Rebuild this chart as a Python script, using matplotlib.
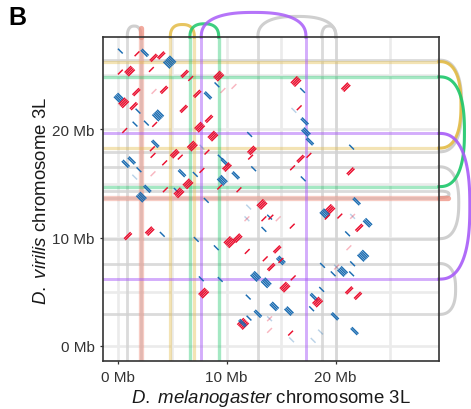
import numpy as np
import matplotlib.pyplot as plt

plt.rcParams['font.family'] = ['Liberation Sans', 'DejaVu Sans']
plt.rcParams['mathtext.fontset'] = 'custom'
plt.rcParams['mathtext.rm'] = 'Liberation Sans'
plt.rcParams['mathtext.it'] = 'Liberation Sans:italic'

# breakpoints on D. melanogaster 3L (x, Mb) and D. virilis 3L (y, Mb)
gray_x = [0.88, 2.14, 12.87, 18.74, 20.03]
gray_y = [26.40, 17.93, 16.54, 9.90, 7.60, 2.90, 14.30, 13.70]
gray_x_links = [(0.88, 2.14), (12.87, 20.03), (18.74, 20.03)]
gray_y_links = [(26.40, 17.93), (16.54, 9.90), (7.60, 2.90), (14.30, 13.70)]

salmon_x = [2.14]
salmon_y = [13.70]
yellow_x = [4.83, 7.03]
yellow_y = [26.27, 18.27]
green_x = [6.63, 9.27]
green_y = [24.86, 14.71]
purple_x = [7.67, 17.28]
purple_y = [19.63, 6.16]

# alignments: centre on mel, centre on vir, strand, number of stacked hits (0 = weak hit)
aln_x = [0.24, 1.77, 2.48, 3.30, 4.00, 4.77, 0.24, 1.10, 3.09, 6.15, 6.70, 9.27, 9.11, 9.66, 10.67,
         1.71, 3.33, 4.25, 0.12, 0.55, 1.47, 1.86, 3.70, 6.06, 7.30, 8.28, 8.38, 3.39, 2.63, 1.59,
         7.52, 0.64, 8.74, 12.11, 3.45, 6.85, 3.18, 3.24, 5.23, 5.74, 8.19, 7.73, 9.41, 9.82, 12.32,
         12.20, 0.73, 1.28, 4.31, 1.95, 1.56, 3.24, 5.90, 7.12, 7.73, 10.03, 10.83, 12.48, 9.60, 6.45,
         2.72, 4.37, 5.38, 5.62, 2.17, 9.36, 11.13, 8.13, 13.24, 12.02, 11.86, 11.86, 13.42, 13.94, 13.42,
         2.94, 0.94, 4.09, 7.21, 10.27, 11.01, 9.05, 11.89, 13.54, 14.09, 7.67, 9.41, 12.66, 13.63, 7.89,
         11.98, 12.87, 12.05, 11.50, 11.45, 13.94, 13.94, 13.94,
         16.36, 16.97, 20.94, 16.17, 16.66, 17.16, 17.28, 17.64, 21.47, 16.79, 17.55, 16.05, 21.38, 17.03, 21.93,
         19.48, 19.02, 19.23, 20.39, 21.56, 21.56, 22.94, 22.17, 14.73, 14.06, 16.02, 21.10, 21.22, 22.53, 14.64,
         14.98, 14.98, 18.80, 19.78, 20.09, 20.09, 20.64, 21.56, 21.47, 16.11, 15.35, 18.72, 21.25, 22.05, 14.37,
         15.72, 18.01, 18.35, 17.80, 19.94, 21.74, 15.87, 15.96, 17.94, 18.62]
aln_y = [27.24, 26.99, 27.08, 26.62, 26.84, 26.22, 25.30, 25.39, 25.54, 25.14, 24.71, 24.93, 24.12, 23.60, 23.97,
         23.45, 23.51, 23.66, 22.89, 22.46, 22.15, 21.69, 21.29, 21.90, 23.29, 23.14, 20.98, 20.46, 20.58, 20.49,
         20.21, 19.90, 19.38, 19.53, 18.67, 18.46, 18.21, 17.60, 17.75, 17.44, 17.90, 18.36, 17.44, 16.98, 18.06,
         17.44, 16.82, 17.13, 16.91, 16.27, 15.59, 15.90, 15.96, 15.84, 16.21, 16.52, 15.75, 16.36, 15.29, 14.97,
         14.51, 14.42, 14.36, 14.14, 13.74, 14.67, 14.42, 13.44, 13.07, 12.82, 11.74, 11.74, 11.74, 11.89, 10.76,
         10.60, 10.14, 10.30, 9.83, 9.58, 9.95, 9.06, 8.72, 8.04, 7.27, 6.19, 6.13, 6.41, 5.82, 4.87,
         4.50, 2.96, 2.56, 2.03, 2.10, 1.42, 2.50, 2.50,
         24.43, 23.60, 23.91, 21.76, 22.00, 20.74, 19.75, 18.89, 18.36, 17.28, 17.60, 16.45, 16.12, 15.43, 13.35,
         12.60, 12.20, 11.89, 11.99, 11.96, 11.96, 11.37, 10.90, 11.74, 11.89, 11.06, 10.35, 9.06, 8.32, 8.91,
         7.89, 7.89, 7.43, 6.65, 7.27, 7.27, 6.87, 7.58, 6.65, 6.28, 5.42, 5.21, 5.12, 4.62, 3.64,
         3.21, 4.50, 4.04, 3.42, 2.72, 1.36, 1.17, 0.55, 0.50, 1.27]
aln_strand = ['-', '+', '-', '+', '+', '-', '+', '+', '+', '+', '+', '+', '-', '+', '+',
              '+', '+', '+', '-', '+', '+', '-', '-', '+', '+', '-', '+', '+', '-', '-',
              '+', '+', '+', '-', '-', '+', '+', '+', '+', '+', '+', '-', '-', '-', '+',
              '+', '-', '-', '+', '-', '-', '+', '-', '-', '+', '+', '-', '-', '-', '+',
              '-', '+', '-', '+', '-', '+', '+', '-', '+', '-', '-', '+', '+', '-', '-',
              '+', '+', '-', '-', '+', '+', '-', '+', '+', '+', '-', '-', '-', '-', '+',
              '-', '-', '-', '+', '-', '+', '-', '+',
              '+', '-', '+', '-', '+', '-', '-', '-', '-', '+', '+', '+', '+', '-', '-',
              '+', '-', '+', '+', '-', '+', '-', '+', '+', '+', '+', '-', '+', '-', '+',
              '-', '+', '-', '-', '+', '-', '-', '-', '-', '+', '+', '-', '+', '+', '-',
              '-', '-', '+', '-', '-', '-', '+', '-', '-', '-']
aln_n = [1, 1, 2, 2, 2, 6, 1, 4, 1, 2, 1, 4, 1, 0, 0,
         2, 0, 2, 4, 4, 2, 1, 5, 2, 2, 2, 2, 1, 1, 1,
         4, 1, 4, 1, 2, 4, 1, 1, 3, 1, 1, 0, 1, 2, 3,
         1, 2, 2, 1, 1, 0, 0, 2, 1, 1, 3, 2, 1, 4, 4,
         2, 1, 1, 4, 4, 1, 1, 1, 4, 0, 0, 0, 1, 1, 1,
         3, 2, 1, 1, 5, 3, 1, 1, 1, 2, 1, 1, 4, 4, 4,
         1, 2, 1, 5, 2, 0, 0, 0,
         4, 1, 3, 0, 1, 2, 3, 2, 1, 2, 1, 1, 2, 1, 2,
         4, 4, 1, 1, 0, 0, 3, 2, 0, 1, 1, 1, 0, 5, 2,
         3, 1, 1, 1, 0, 0, 4, 1, 1, 1, 4, 1, 2, 2, 3,
         3, 2, 4, 1, 2, 2, 1, 0, 0, 0]

RED = '#EA0F2F'
BLUE = '#1C6DB2'
GRAY = '#D2D2D2'
SALMON = '#EE8E7E'
YELLOW = '#E3BB45'
GREEN = '#1CC76A'
PURPLE = '#A85CF8'

xlim = (-1.35, 29.49)
ylim = (-1.41, 28.53)

fig = plt.figure(figsize=(4.71, 4.10), dpi=100)
ax = fig.add_axes([0.2187, 0.117, 0.7133, 0.790])
ax.set_xlim(xlim)
ax.set_ylim(ylim)

# pixels per Mb, used for the loops drawn outside the panel
ppx = 0.7133 * 471 / (xlim[1] - xlim[0])
ppy = 0.790 * 410 / (ylim[1] - ylim[0])

ax.set_xticks([0, 10, 20])
ax.set_xticklabels(['0 Mb', '10 Mb', '20 Mb'])
ax.set_yticks([0, 10, 20])
ax.set_yticklabels(['0 Mb', '10 Mb', '20 Mb'])
ax.set_xticks([5, 15, 25], minor=True)
ax.set_yticks([5, 15, 25], minor=True)
ax.tick_params(which='major', length=2.2, width=0.9, color='#333333',
               labelsize=11, labelcolor='#333333', pad=4)
ax.tick_params(which='minor', length=0)
ax.grid(which='both', color='#EBEBEB', lw=1.9, zorder=0)
ax.set_axisbelow(True)
for sp in ax.spines.values():
    sp.set_color('#333333')
    sp.set_linewidth(1.2)
    sp.set_zorder(10)


def superarc(a, h, n=2.5, num=80):
    t = np.linspace(0, np.pi, num)
    c = np.cos(t)
    s = np.sin(t)
    u = np.sign(c) * np.abs(c) ** (2 / n) * a
    v = np.abs(s) ** (2 / n) * h
    return u, v


def loop_top(x1, x2, color, lw, alpha):
    w = abs(x2 - x1) * ppx
    h = (9 + 0.15 * w) / ppy
    if w < 0.5:
        ax.plot([x1, x1], [ylim[1], ylim[1] + h], color=color, lw=lw, alpha=alpha,
                solid_capstyle='round', clip_on=False, zorder=3)
        return
    u, v = superarc(abs(x2 - x1) / 2, h)
    ax.plot((x1 + x2) / 2 + u, ylim[1] + v, color=color, lw=lw, alpha=alpha,
            clip_on=False, zorder=3)


def loop_right(y1, y2, color, lw, alpha):
    w = abs(y2 - y1) * ppy
    h = (9 + 0.15 * w) / ppx
    if w < 0.5:
        ax.plot([xlim[1], xlim[1] + h], [y1, y1], color=color, lw=lw, alpha=alpha,
                solid_capstyle='round', clip_on=False, zorder=3)
        return
    u, v = superarc(abs(y2 - y1) / 2, h)
    ax.plot(xlim[1] + v, (y1 + y2) / 2 + u, color=color, lw=lw, alpha=alpha,
            clip_on=False, zorder=3)


# gray breakpoints
for x in gray_x:
    ax.axvline(x, color=GRAY, lw=2.0, alpha=0.8, zorder=1)
for y in gray_y:
    ax.axhline(y, color=GRAY, lw=2.0, alpha=0.8, zorder=1)
for a, b in gray_x_links:
    loop_top(a, b, '#CFCFCF', 2.2, 1.0)
for a, b in gray_y_links:
    loop_right(a, b, '#CFCFCF', 2.2, 1.0)

# coloured breakpoints
colored = [(salmon_x, salmon_y, SALMON, 3.8, 0.45),
           (yellow_x, yellow_y, YELLOW, 2.3, 0.4),
           (green_x, green_y, GREEN, 2.4, 0.4),
           (purple_x, purple_y, PURPLE, 2.1, 0.5)]
for bx, by, col, lw, al in colored:
    for x in bx:
        ax.axvline(x, color=col, lw=lw, alpha=al, zorder=2)
    for y in by:
        ax.axhline(y, color=col, lw=lw, alpha=al, zorder=2)
    if len(bx) == 1:
        loop_top(bx[0], bx[0], col, lw, 0.75)
        loop_right(by[0], by[0], col, lw, 0.75)
    else:
        loop_top(bx[0], bx[1], col, 2.2, 0.85)
        loop_right(by[0], by[1], col, 2.2, 0.9)

# alignments: stacks of short diagonal hits
sp_px = 1.7
for x, y, s, n in zip(aln_x, aln_y, aln_strand, aln_n):
    sg = 1 if s == '+' else -1
    col = RED if sg == 1 else BLUE
    half = 0.22 if n <= 1 else 0.3
    k = max(n, 1)
    alpha = 0.3 if n == 0 else 1.0
    offs = (np.arange(k) - (k - 1) / 2) * sp_px / np.sqrt(2)
    for o in offs:
        dx = -sg * o / ppx
        dy = o / ppy
        ax.plot([x - half + dx, x + half + dx], [y - sg * half + dy, y + sg * half + dy],
                color=col, lw=1.05, alpha=alpha, solid_capstyle='butt', zorder=5)

fig.text(271 / 471, 0.018, r'$\it{D.\ melanogaster}$ chromosome 3L', ha='center',
         va='baseline', fontsize=13.4, color='#1a1a1a')
fig.text(0.088, 0.511, r'$\it{D.\ virilis}$ chromosome 3L', ha='center', va='center',
         rotation=90, fontsize=13.4, color='#1a1a1a')
fig.text(0.017, 0.939, 'B', fontsize=18, fontweight='bold', va='baseline')

fig.savefig('out.png', dpi=100)
